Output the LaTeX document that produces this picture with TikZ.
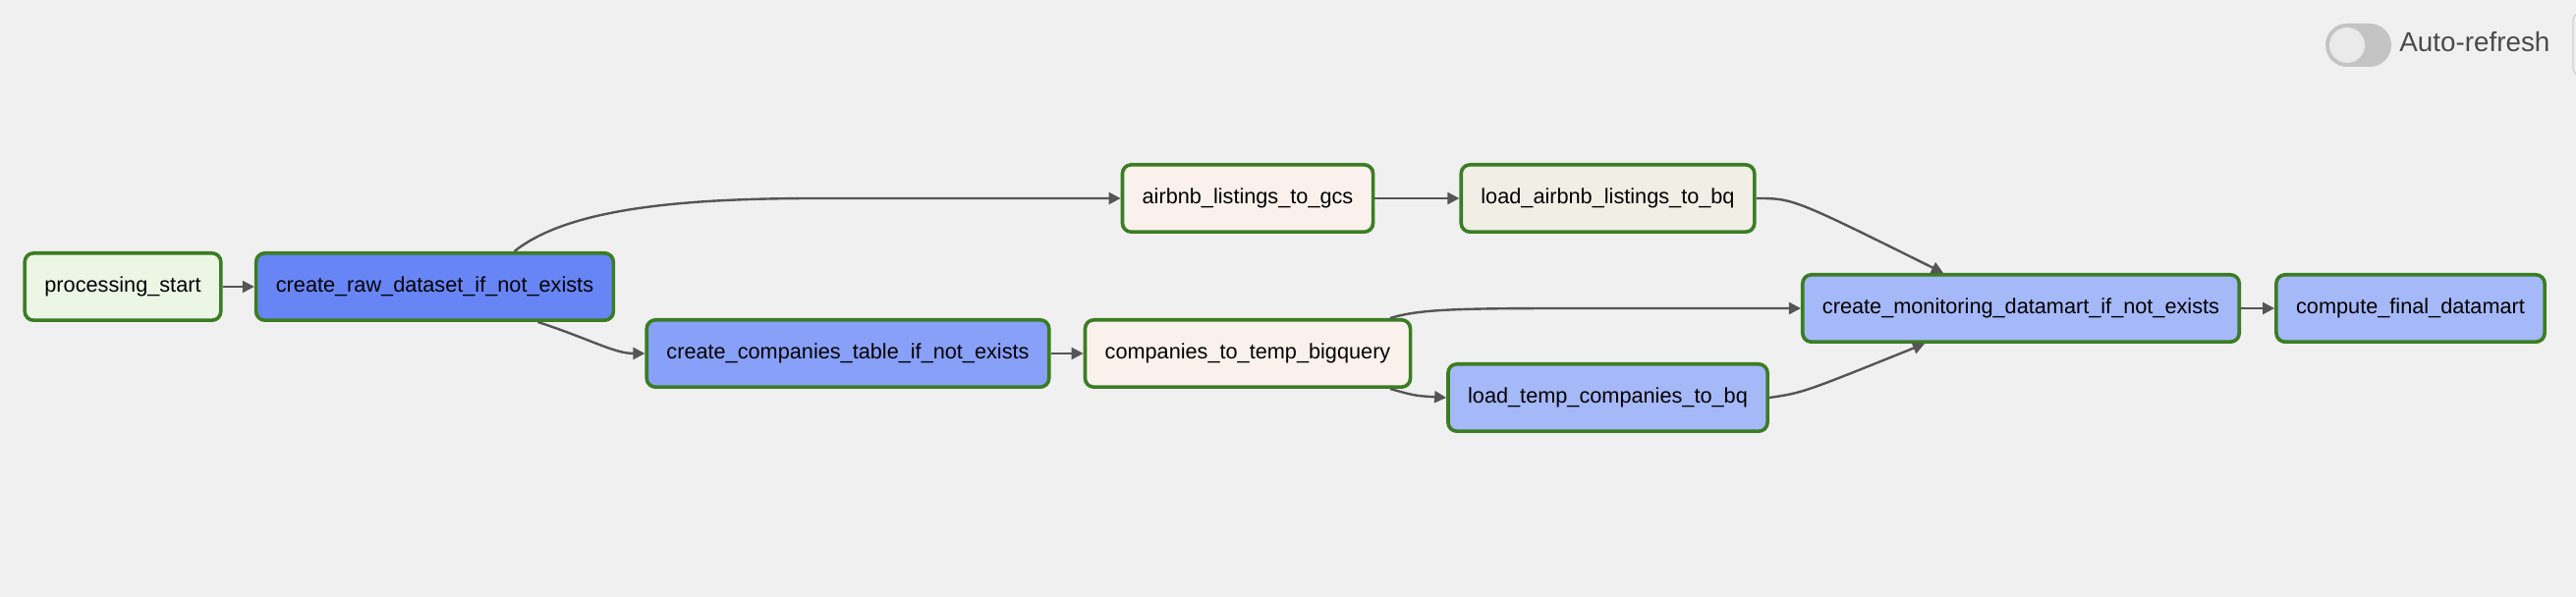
\documentclass[tikz,border=0pt]{standalone}
\usepackage{fontspec}
\setmainfont{Liberation Sans}
\usetikzlibrary{arrows.meta,calc}
\definecolor{bg}{RGB}{240,240,240}
\definecolor{taskborder}{RGB}{59,125,35}
\definecolor{edgegray}{RGB}{85,85,85}
\definecolor{startgreen}{RGB}{235,246,228}
\definecolor{rawblue}{RGB}{103,133,245}
\definecolor{tableblue}{RGB}{136,160,248}
\definecolor{lightblue}{RGB}{165,184,248}
\definecolor{peach}{RGB}{250,241,236}
\definecolor{beige}{RGB}{241,238,230}
\definecolor{togglegray}{RGB}{196,196,196}
\definecolor{knob}{RGB}{234,234,234}
\definecolor{labelgray}{RGB}{74,74,74}
\definecolor{framegray}{RGB}{205,205,205}
\begin{document}
\begin{tikzpicture}[x=0.5pt,y=-0.5pt,
  task/.style={draw=taskborder,line width=1.8pt,rounded corners=4.5pt,
    inner xsep=10.1pt,minimum height=34.2pt,
    font=\fontsize{10.85pt}{13pt}\selectfont},
  edge/.style={draw=edgegray,line width=1.2pt,-{Triangle[length=6pt,width=6pt]}}]
  % Hintergrund
  \fill[bg] (0,0) rectangle (2622,608);
  \useasboundingbox (0,0) rectangle (2622,608);
  % Tasks
  \node[task,fill=startgreen] (start) at (125,292) {processing\_start};
  \node[task,fill=rawblue] (rawds) at (442.5,292) {create\_raw\_dataset\_if\_not\_exists};
  \node[task,fill=tableblue] (comptab) at (863,360) {create\_companies\_table\_if\_not\_exists};
  \node[task,fill=peach] (gcs) at (1270,202) {airbnb\_listings\_to\_gcs};
  \node[task,fill=peach] (tmpbq) at (1270,360) {companies\_to\_temp\_bigquery};
  \node[task,fill=beige] (bqload) at (1636.5,202) {load\_airbnb\_listings\_to\_bq};
  \node[task,fill=lightblue] (tmpload) at (1636.5,405) {load\_temp\_companies\_to\_bq};
  \node[task,fill=lightblue] (mart) at (2057,314) {create\_monitoring\_datamart\_if\_not\_exists};
  \node[task,fill=lightblue] (final) at (2453.5,314) {compute\_final\_datamart};
  % Abhaengigkeiten
  \draw[edge] (start) -- (rawds);
  \draw[edge] ($(rawds.north)+(81,0)$) .. controls (575,215) and (680,202) .. (830,202) -- (gcs.west);
  \draw[edge] ($(rawds.south)+(105,0)$) .. controls (600,345) and (625,360) .. (comptab.west);
  \draw[edge] (comptab) -- (tmpbq);
  \draw[edge] (gcs) -- (bqload);
  \draw[edge] (bqload.east) .. controls (1825,202) .. ($(mart.north)+(-79,0)$);
  \draw[edge] ($(tmpbq.north)+(145,0)$) .. controls (1445,315) and (1480,314) .. (1600,314) -- (mart.west);
  \draw[edge] ($(tmpbq.south)+(145,0)$) .. controls (1440,403) .. (tmpload.west);
  \draw[edge] (tmpload.east) .. controls (1835,400) .. ($(mart.south)+(-98,0)$);
  \draw[edge] (mart) -- (final);
  % Auto-refresh
  \fill[togglegray,rounded corners=11pt] (2367,24) rectangle (2434,68);
  \fill[knob] (2389,46) circle[radius=9pt];
  \node[anchor=west,inner sep=0pt,text=labelgray,font=\fontsize{13.9pt}{16pt}\selectfont] (autoref) at (2442,43) {Auto-refresh};
  \draw[framegray,line width=0.6pt,rounded corners=4pt] (2619,13) rectangle (2680,77);
\end{tikzpicture}
\end{document}
